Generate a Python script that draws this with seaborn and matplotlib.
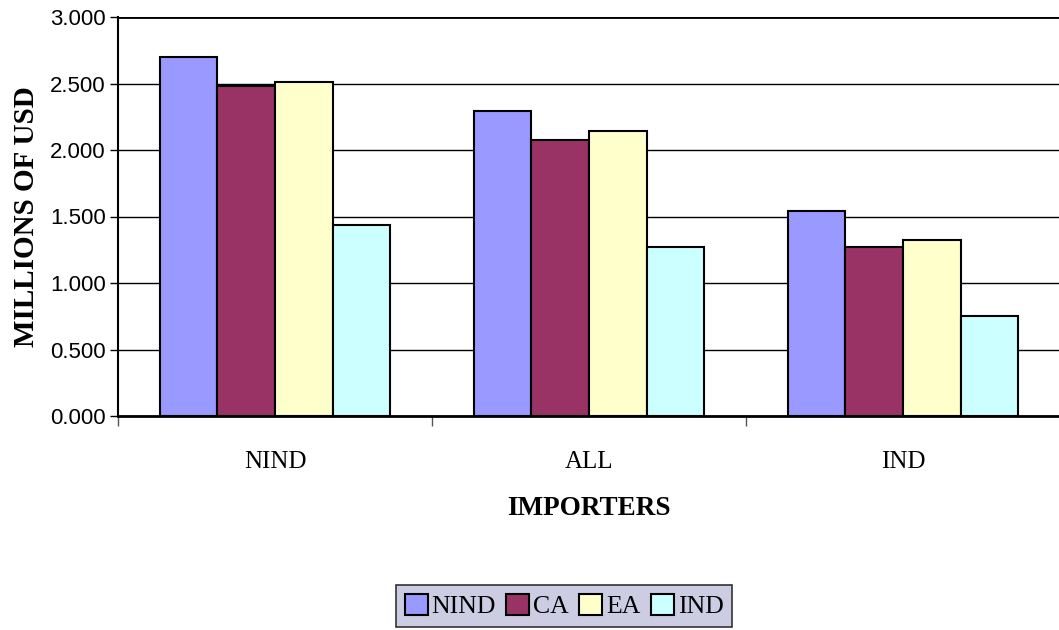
import matplotlib
matplotlib.use("Agg")
import matplotlib.pyplot as plt
import seaborn as sns
import pandas as pd
import numpy as np
from matplotlib.patches import Patch
from matplotlib.ticker import FormatStrFormatter, FixedLocator

importers = ["NIND", "ALL", "IND"]
series = ["NIND", "CA", "EA", "IND"]
nind_vals = [2.70, 2.295, 1.545]
ca_vals = [2.48, 2.075, 1.27]
ea_vals = [2.513, 2.14, 1.325]
ind_vals = [1.436, 1.268, 0.755]
colors = ["#9999FF", "#993366", "#FFFFCC", "#CCFFFF"]

rows = []
for s, vals in zip(series, [nind_vals, ca_vals, ea_vals, ind_vals]):
    for imp, v in zip(importers, vals):
        rows.append({"Importer": imp, "Series": s, "Value": v})
df = pd.DataFrame(rows)

sns.set_theme(style="white")
plt.rcParams["font.family"] = ["Liberation Serif", "DejaVu Serif"]
plt.rcParams["text.color"] = "black"
plt.rcParams["axes.labelcolor"] = "black"
plt.rcParams["xtick.color"] = "black"
plt.rcParams["ytick.color"] = "black"

fig = plt.figure(figsize=(10.59, 6.30), dpi=100)
ax = fig.add_axes([118 / 1059, 1 - 416 / 630, (1060 - 118) / 1059, (416 - 17) / 630])

sns.barplot(data=df, x="Importer", y="Value", hue="Series", order=importers,
            hue_order=series, palette=colors, width=0.735, gap=0,
            edgecolor="black", linewidth=1.5, saturation=1, ax=ax, legend=False,
            zorder=3)

ax.set_xlim(-0.5, 2.5)
ax.set_ylim(0, 3.0)
ax.yaxis.set_major_locator(FixedLocator([0, 0.5, 1.0, 1.5, 2.0, 2.5, 3.0]))
ax.yaxis.set_major_formatter(FormatStrFormatter("%.3f"))
ax.grid(axis="y", color="black", linewidth=1.0, zorder=0)
ax.set_axisbelow(True)

for sp in ["top", "right"]:
    ax.spines[sp].set_visible(False)
ax.spines["left"].set_color("black")
ax.spines["left"].set_linewidth(1.5)
ax.spines["bottom"].set_color("black")
ax.spines["bottom"].set_linewidth(2.0)
ax.axhline(3.0, color="black", linewidth=2.0, zorder=1)

ax.tick_params(axis="y", which="major", left=True, length=6, width=1.0,
               color="black", labelcolor="black", labelsize=16, pad=3)
for lab in ax.get_yticklabels():
    lab.set_fontfamily(["Liberation Sans", "DejaVu Sans"])

ax.set_xticks([-0.5, 0.5, 1.5, 2.5], minor=True)
ax.tick_params(axis="x", which="minor", bottom=True, length=7, width=1.0, color="#555555")
ax.tick_params(axis="x", which="major", bottom=False, length=0, labelsize=18,
               labelcolor="black", pad=25)

ax.set_xlabel("IMPORTERS", fontsize=19.5, fontweight="bold", labelpad=17, color="black")
ax.set_ylabel("MILLIONS OF USD", fontsize=21, fontweight="bold", labelpad=7, color="black")

handles = [Patch(facecolor=c, edgecolor="black", linewidth=1.5, label=s)
           for c, s in zip(colors, series)]
leg = fig.legend(handles=handles, loc="center", ncol=4,
                 bbox_to_anchor=(564 / 1059, 1 - 606 / 630),
                 fontsize=18.5, frameon=True, fancybox=False,
                 handlelength=0.9, handleheight=0.9, handletextpad=0.15,
                 columnspacing=0.4, borderpad=0.35)
for t in leg.get_texts():
    t.set_color("black")
leg.get_frame().set_facecolor("#CCCCE3")
leg.get_frame().set_edgecolor("#333333")
leg.get_frame().set_linewidth(1.2)
leg.get_frame().set_alpha(1)

fig.savefig("out.png", dpi=100)
